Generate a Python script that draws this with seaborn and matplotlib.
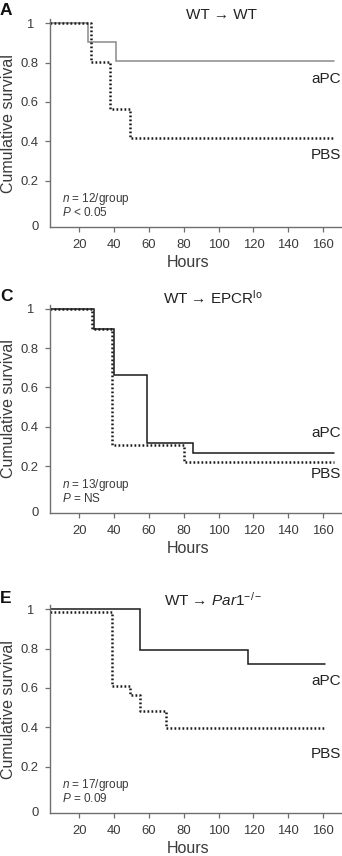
import numpy as np
import pandas as pd
import matplotlib
matplotlib.use("Agg")
import matplotlib.pyplot as plt
import matplotlib.transforms as mtransforms
import seaborn as sns

sns.set_style("ticks")
plt.rcParams["font.family"] = ["Liberation Sans", "DejaVu Sans"]
plt.rcParams["mathtext.fontset"] = "custom"
plt.rcParams["mathtext.rm"] = "Liberation Sans"
plt.rcParams["mathtext.it"] = "Liberation Sans:italic"
plt.rcParams["mathtext.bf"] = "Liberation Sans:bold"

# ---------------- data ----------------
panel_letters = ["A", "C", "E"]
panel_titles = [r"WT → WT", r"WT → EPCR$^{\mathrm{lo}}$", r"WT → $\mathit{Par1}^{\mathit{-/-}}$"]
n_text = [r"$\mathit{n}$ = 12/group", r"$\mathit{n}$ = 13/group", r"$\mathit{n}$ = 17/group"]
p_text = [r"$\mathit{P}$ < 0.05", r"$\mathit{P}$ = NS", r"$\mathit{P}$ = 0.09"]

a_apc_hours = [3.1, 25.2, 41.3, 166]
a_apc_surv = [1.0, 0.904, 0.807, 0.807]
a_pbs_hours = [3.1, 26.6, 37.7, 49.0, 166]
a_pbs_surv = [1.0, 0.805, 0.562, 0.416, 0.416]

c_apc_hours = [3.1, 28.6, 39.6, 59.0, 85.3, 166]
c_apc_surv = [1.0, 0.898, 0.661, 0.32, 0.269, 0.269]
c_pbs_hours = [3.1, 27.3, 39.0, 79.9, 166]
c_pbs_surv = [1.0, 0.895, 0.308, 0.22, 0.22]

e_apc_hours = [3.1, 55.0, 116.6, 161]
e_apc_surv = [1.0, 0.792, 0.72, 0.72]
e_pbs_hours = [3.1, 39.0, 49.2, 54.6, 69.8, 161]
e_pbs_surv = [0.986, 0.61, 0.565, 0.482, 0.396, 0.396]

apc_hours = [a_apc_hours, c_apc_hours, e_apc_hours]
apc_surv = [a_apc_surv, c_apc_surv, e_apc_surv]
pbs_hours = [a_pbs_hours, c_pbs_hours, e_pbs_hours]
pbs_surv = [a_pbs_surv, c_pbs_surv, e_pbs_surv]

apc_colors = ["#8a8a8a", "#1a1a1a", "#1a1a1a"]
apc_label_y = [0.716, 0.367, 0.636]
pbs_label_y = [0.33, 0.16, 0.267]

x_ticks = [20, 40, 60, 80, 100, 120, 140, 160]
y_ticks = [0.2, 0.4, 0.6, 0.8, 1.0]
y_tick_labels = ["0.2", "0.4", "0.6", "0.8", "1"]

# ---------------- layout ----------------
W, H = 342, 856
fig = plt.figure(figsize=(W / 100, H / 100), dpi=100)
ybot = -0.035
ytop = 1.02
axis_bottom_px = [227, 512.5, 813]
ax_h_px = (ytop - ybot) * 197
left_px, right_px = 50, 341
ax_w_px = right_px - left_px

txt_col = "#3a3a3a"
spine_col = "#6f6f6f"

for i in range(3):
    ax = fig.add_axes([left_px / W, 1 - axis_bottom_px[i] / H,
                       ax_w_px / W, ax_h_px / H])
    df_apc = pd.DataFrame({"Hours": apc_hours[i], "Survival": apc_surv[i]})
    df_pbs = pd.DataFrame({"Hours": pbs_hours[i], "Survival": pbs_surv[i]})
    sns.lineplot(data=df_apc, x="Hours", y="Survival", ax=ax, estimator=None,
                 sort=False, drawstyle="steps-post", color=apc_colors[i],
                 linewidth=1.1, solid_joinstyle="miter")
    sns.lineplot(data=df_pbs, x="Hours", y="Survival", ax=ax, estimator=None,
                 sort=False, drawstyle="steps-post", color="#1a1a1a",
                 linewidth=1.8, linestyle=(0, (0.7, 0.9)))
    ax.set_xlim(3.1, 170.3)
    ax.set_ylim(ybot, ytop)
    ax.set_xticks(x_ticks)
    ax.set_xticklabels([str(v) for v in x_ticks])
    ax.set_yticks(y_ticks)
    ax.set_yticklabels(y_tick_labels)
    for lab in ax.get_yticklabels():
        lab.set_ha("center")
    ax.tick_params(axis="y", length=3.6, width=0.9, direction="out", color=spine_col,
                   pad=11.0, labelsize=9.4, labelcolor=txt_col)
    ax.tick_params(axis="x", length=3.6, width=0.9, direction="out", color=spine_col,
                   pad=5.2, labelsize=9.4, labelcolor=txt_col)
    # zero label sits at the axis corner (as in the reference)
    ax.text(-15 / ax_w_px, ybot, "0", transform=ax.get_yaxis_transform(),
            ha="center", va="center", fontsize=9.4, color=txt_col)
    for s in ["top", "right"]:
        ax.spines[s].set_visible(False)
    for s in ["left", "bottom"]:
        ax.spines[s].set_color(spine_col)
        ax.spines[s].set_linewidth(1.0)
    ax.set_xlabel("Hours", fontsize=11.5, color=txt_col, va="center")
    ax.xaxis.set_label_coords(0.474, -0.173)
    ax.set_ylabel("Cumulative survival", fontsize=11.5, color=txt_col, va="center")
    ax.yaxis.set_label_coords(-41 / ax_w_px, 0.5)

    ax.text(0.56 if i else 0.591, [1.019, 1.031, 1.025][i], panel_titles[i],
            transform=ax.transAxes, ha="center", va="center", fontsize=11, color="#222222")
    ax.text(-left_px / ax_w_px, [1.044, 1.039, 1.03][i], panel_letters[i],
            transform=ax.transAxes, ha="left", va="center", fontsize=12.5,
            fontweight="bold", color="#111111")
    ax.text(1.0, apc_label_y[i], "aPC", transform=ax.get_yaxis_transform(),
            ha="right", va="center", fontsize=11, color="#222222")
    ax.text(1.0, pbs_label_y[i], "PBS", transform=ax.get_yaxis_transform(),
            ha="right", va="center", fontsize=11, color="#222222")
    ax.text(0.04, 0.105, n_text[i], transform=ax.get_yaxis_transform(),
            ha="left", va="center", fontsize=8.5, color=txt_col)
    ax.text(0.04, 0.037, p_text[i], transform=ax.get_yaxis_transform(),
            ha="left", va="center", fontsize=8.5, color=txt_col)

fig.savefig("out.png", dpi=100)
